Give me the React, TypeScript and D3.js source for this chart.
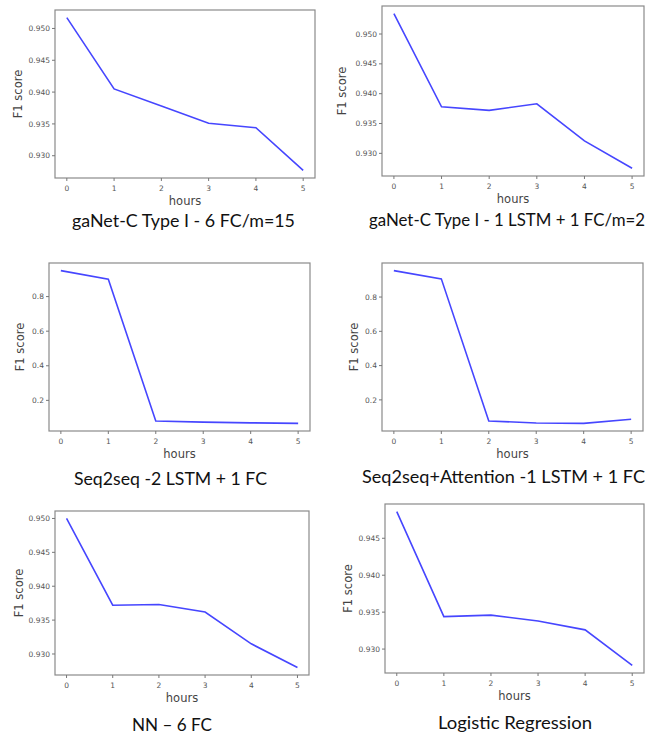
import * as d3 from "d3";

// values, one series per panel
const hours = [0, 1, 2, 3, 4, 5];
const ganet6fc = [0.9517, 0.9405, 0.9378, 0.9351, 0.9344, 0.9277];
const ganetLstm = [0.9534, 0.9378, 0.9372, 0.9383, 0.9321, 0.9275];
const seq2seq = [0.95, 0.9, 0.081, 0.074, 0.07, 0.067];
const seq2seqAttn = [0.954, 0.906, 0.077, 0.065, 0.063, 0.087];
const nn6fc = [0.95, 0.9372, 0.9373, 0.9362, 0.9315, 0.928];
const logReg = [0.9486, 0.9344, 0.9346, 0.9338, 0.9326, 0.9278];

const captions = [
  "gaNet-C Type I - 6 FC/m=15",
  "gaNet-C Type I - 1 LSTM + 1 FC/m=2",
  "Seq2seq -2 LSTM + 1 FC",
  "Seq2seq+Attention -1 LSTM + 1 FC",
  "NN \u2013 6 FC",
  "Logistic Regression",
];
const fineTicks = [0.93, 0.935, 0.94, 0.945, 0.95];
const coarseTicks = [0.2, 0.4, 0.6, 0.8];
const logRegTicks = [0.93, 0.935, 0.94, 0.945];

// layout: frame box, y-label offset, caption box
const panels = [
  { values: ganet6fc, ticks: fineTicks, digits: 3, frame: [55, 10, 260, 168], lab: 38, cap: [72, 227, 223] },
  { values: ganetLstm, ticks: fineTicks, digits: 3, frame: [382, 6, 262, 170], lab: 41, cap: [369, 226, 276] },
  { values: seq2seq, ticks: coarseTicks, digits: 1, frame: [49, 263, 261, 168], lab: 30, cap: [74, 485, 193] },
  { values: seq2seqAttn, ticks: coarseTicks, digits: 1, frame: [382, 263, 261, 168], lab: 29, cap: [362, 483, 283] },
  { values: nn6fc, ticks: fineTicks, digits: 3, frame: [55, 511, 254, 164], lab: 37, cap: [132, 731, 80] },
  { values: logReg, ticks: logRegTicks, digits: 3, frame: [385, 504, 259, 169], lab: 38, cap: [438, 729, 154] },
];

function Panel({ p, caption }) {
  const [fx, fy, fw, fh] = p.frame;
  const [lo, hi] = d3.extent(p.values);
  const pad = (hi - lo) * 0.05;
  const x = d3.scaleLinear([-0.25, 5.25], [fx, fx + fw]);
  const y = d3.scaleLinear([lo - pad, hi + pad], [fy + fh, fy]);
  const line = d3
    .line()
    .x((d, i) => x(hours[i]))
    .y((d) => y(d));
  const fmt = d3.format(`.${p.digits}f`);
  return (
    <g>
      <path d={line(p.values)} fill="none" stroke="#4646ff" strokeWidth="1.6" />
      <rect x={fx} y={fy} width={fw} height={fh} fill="none" stroke="#8a8a8a" strokeWidth="1.2" />
      <g fontFamily="DejaVu Sans" fontSize="7.5" fill="#555">
        {hours.map((h) => (
          <g key={h}>
            <line x1={x(h)} x2={x(h)} y1={fy + fh} y2={fy + fh + 3} stroke="#777" />
            <text x={x(h)} y={fy + fh + 13} textAnchor="middle">{h}</text>
          </g>
        ))}
        {p.ticks.map((t) => (
          <g key={t}>
            <line x1={fx - 3} x2={fx} y1={y(t)} y2={y(t)} stroke="#777" />
            <text x={fx - 5} y={y(t)} dy="0.35em" textAnchor="end">{fmt(t)}</text>
          </g>
        ))}
      </g>
      <g fontFamily="DejaVu Sans" fontSize="11.5" fill="#444">
        <text x={fx + fw / 2} y={fy + fh + 27} textAnchor="middle">hours</text>
        <text
          transform={`translate(${fx - p.lab + 4.5},${fy + fh / 2}) rotate(-90)`}
          textAnchor="middle"
        >
          F1 score
        </text>
      </g>
      <text
        x={p.cap[0]}
        y={p.cap[1]}
        textLength={p.cap[2]}
        lengthAdjust="spacingAndGlyphs"
        fontFamily="Lato"
        fontSize="17.5"
        fill="#111"
      >
        {caption}
      </text>
    </g>
  );
}

export default function App() {
  return (
    <svg width={655} height={737} style={{ position: "absolute", left: 0, top: 0, background: "#fff" }}>
      {panels.map((p, i) => (
        <Panel key={i} p={p} caption={captions[i]} />
      ))}
    </svg>
  );
}
